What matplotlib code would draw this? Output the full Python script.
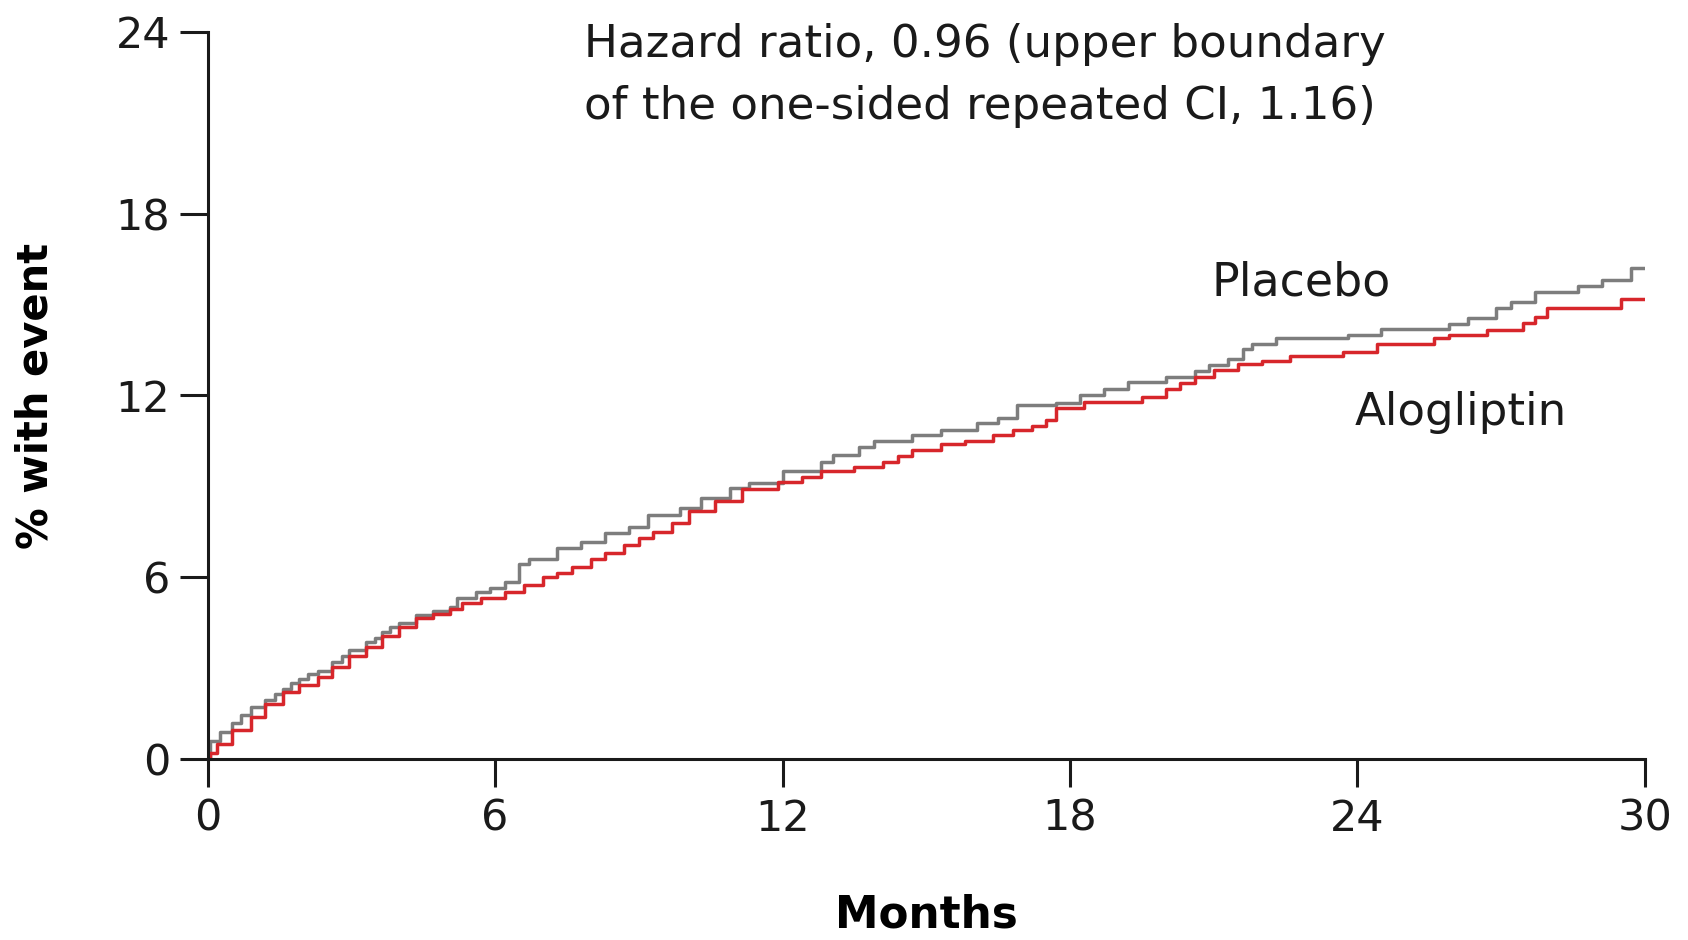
import numpy as np
import matplotlib.pyplot as plt

plt.rcParams['font.family'] = ['DejaVu Sans']

# Cumulative incidence (% with event)
placebo_t = [0, 0.05, 0.25, 0.5, 0.7, 0.9, 1.2, 1.4, 1.57, 1.75, 1.9, 2.1, 2.3, 2.6,
             2.8, 2.95, 3.3, 3.5, 3.65, 3.8, 4.0, 4.35, 4.7, 5.05, 5.2, 5.6, 5.9, 6.2,
             6.5, 6.7, 7.3, 7.8, 8.3, 8.8, 9.2, 9.85, 10.3, 10.9, 11.3, 12.0, 12.8,
             13.05, 13.6, 13.9, 14.7, 15.3, 16.05, 16.5, 16.9, 17.7, 18.2, 18.7, 19.2,
             20.0, 20.6, 20.9, 21.3, 21.6, 21.8, 22.3, 23.8, 24.5, 25.9, 26.3, 26.9,
             27.2, 27.7, 28.6, 29.1, 29.7, 30]
placebo_v = [0.0, 0.6, 0.9, 1.2, 1.45, 1.7, 1.95, 2.15, 2.3, 2.5, 2.65, 2.8, 2.9, 3.2,
             3.4, 3.6, 3.85, 4.0, 4.2, 4.35, 4.5, 4.75, 4.9, 5.0, 5.3, 5.5, 5.65, 5.85,
             6.45, 6.6, 6.95, 7.15, 7.45, 7.65, 8.05, 8.3, 8.6, 8.95, 9.1, 9.5, 9.8,
             10.05, 10.3, 10.5, 10.7, 10.85, 11.1, 11.25, 11.7, 11.75, 12.0, 12.2,
             12.45, 12.6, 12.8, 13.0, 13.2, 13.55, 13.7, 13.9, 14.0, 14.2, 14.35,
             14.55, 14.9, 15.1, 15.4, 15.6, 15.8, 16.2, 16.2]

alogliptin_t = [0, 0.05, 0.2, 0.5, 0.9, 1.2, 1.57, 1.9, 2.3, 2.6, 2.95, 3.3, 3.65, 4.0,
                4.35, 4.7, 5.05, 5.3, 5.7, 6.2, 6.6, 7.0, 7.3, 7.6, 8.0, 8.3, 8.7, 9.0,
                9.3, 9.7, 10.05, 10.6, 11.15, 11.9, 12.4, 12.8, 13.5, 14.1, 14.4, 14.7,
                15.3, 15.8, 16.4, 16.8, 17.2, 17.5, 17.7, 18.3, 19.5, 20.0, 20.3, 20.6,
                21.0, 21.5, 22.0, 22.6, 23.7, 24.4, 25.6, 25.9, 26.7, 27.45, 27.7,
                27.95, 29.5, 30]
alogliptin_v = [0.0, 0.2, 0.5, 0.95, 1.4, 1.8, 2.2, 2.45, 2.7, 3.05, 3.4, 3.7, 4.05,
                4.35, 4.65, 4.8, 4.95, 5.15, 5.3, 5.5, 5.75, 6.0, 6.15, 6.35, 6.6, 6.8,
                7.05, 7.3, 7.5, 7.8, 8.2, 8.5, 8.9, 9.15, 9.3, 9.5, 9.65, 9.8, 10.0,
                10.2, 10.4, 10.5, 10.7, 10.85, 11.0, 11.2, 11.6, 11.8, 11.95, 12.2,
                12.4, 12.6, 12.85, 13.05, 13.15, 13.3, 13.45, 13.7, 13.9, 14.0, 14.15,
                14.4, 14.6, 14.9, 15.2, 15.2]

x_ticks = [0, 6, 12, 18, 24, 30]
y_ticks = [0, 6, 12, 18, 24]

fig = plt.figure(figsize=(16.88, 9.4), dpi=100)
ax = fig.add_axes([0.123, 0.1926, 0.8515, 0.7734])

ax.plot(placebo_t, placebo_v, drawstyle='steps-post', color='#7d7d7d', lw=2.5)
ax.plot(alogliptin_t, alogliptin_v, drawstyle='steps-post', color='#d7262b', lw=2.5)

ax.set_xlim(0, 30)
ax.set_ylim(0, 24)
ax.set_xticks(x_ticks)
ax.set_yticks(y_ticks)
ax.tick_params(axis='both', direction='out', length=20, width=2.2,
               labelsize=31, colors='#1a1a1a')
ax.tick_params(axis='x', pad=8)
ax.tick_params(axis='y', pad=7)
for side in ['top', 'right']:
    ax.spines[side].set_visible(False)
for side in ['left', 'bottom']:
    ax.spines[side].set_linewidth(2.2)
    ax.spines[side].set_color('#1a1a1a')

ax.set_xlabel("Months", fontsize=31.5, fontweight='bold')
ax.set_ylabel("% with event", fontsize=30, fontweight='bold')
ax.xaxis.set_label_coords(0.5, -0.2146)
ax.xaxis.label.set_verticalalignment('center')
ax.yaxis.set_label_coords(-0.12, 0.5)
ax.yaxis.label.set_verticalalignment('center')

ax.text(0.262, 1.012, "Hazard ratio, 0.96 (upper boundary\nof the one-sided repeated CI, 1.16)",
        transform=ax.transAxes, fontsize=32.5, va='top', ha='left',
        linespacing=1.55, color='#1a1a1a')
ax.text(20.95, 15.7, "Placebo", fontsize=33, va='center', ha='left', color='#1a1a1a')
ax.text(23.95, 11.45, "Alogliptin", fontsize=32.5, va='center', ha='left', color='#1a1a1a')

fig.savefig("out.png", dpi=100)
